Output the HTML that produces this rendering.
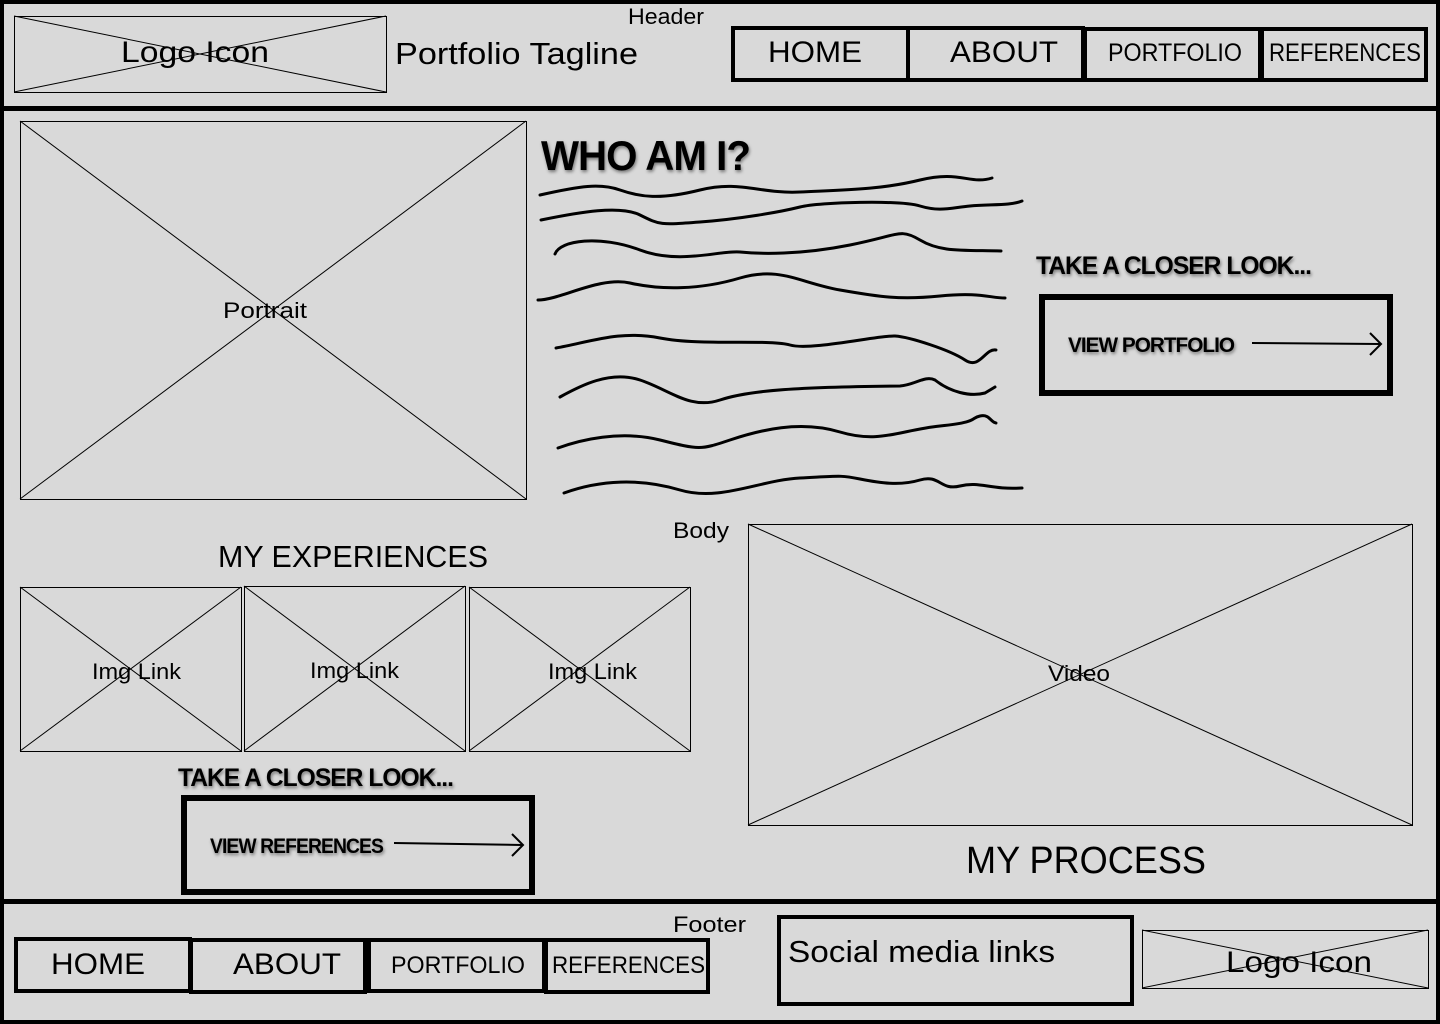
<!DOCTYPE html>
<html><head><meta charset="utf-8"><style>
html,body{margin:0;padding:0;background:#000;}
svg{display:block;}
text{font-family:"Liberation Sans",sans-serif;fill:#000;}
.b{font-weight:bold;letter-spacing:-1px;}
</style></head><body>
<svg width="1440" height="1024" viewBox="0 0 1440 1024" xmlns="http://www.w3.org/2000/svg">
<defs><filter id="sh" x="-10%" y="-30%" width="120%" height="160%"><feDropShadow dx="1" dy="2" stdDeviation="1.5" flood-color="#000" flood-opacity="0.45"/></filter></defs>
<rect width="1440" height="1024" fill="#000"/>
<rect x="4" y="4" width="1432" height="102" fill="#d9d9d9"/>
<rect x="4" y="111" width="1432" height="788" fill="#d9d9d9"/>
<rect x="4" y="904" width="1432" height="116" fill="#d9d9d9"/>

<!-- header -->
<g stroke="#000" stroke-width="1" fill="none">
<rect x="14.5" y="16.5" width="372" height="76"/>
<line x1="14" y1="16" x2="386" y2="92"/><line x1="14" y1="92" x2="386" y2="16"/>
</g>
<text x="121" y="62" font-size="30" textLength="148" lengthAdjust="spacingAndGlyphs">Logo Icon</text>
<text x="395" y="64" font-size="31" textLength="243" lengthAdjust="spacingAndGlyphs">Portfolio Tagline</text>
<text x="628" y="24" font-size="22" textLength="76" lengthAdjust="spacingAndGlyphs">Header</text>
<g stroke="#000" stroke-width="4" fill="none">
<rect x="733" y="28" width="175" height="52"/>
<rect x="908" y="28" width="175" height="52"/>
<rect x="1085" y="29" width="175" height="51"/>
<rect x="1262" y="29" width="164" height="51"/>
</g>
<text x="768" y="62" font-size="30" textLength="94" lengthAdjust="spacingAndGlyphs">HOME</text>
<text x="950" y="62" font-size="30" textLength="108" lengthAdjust="spacingAndGlyphs">ABOUT</text>
<text x="1108" y="61" font-size="25" textLength="134" lengthAdjust="spacingAndGlyphs">PORTFOLIO</text>
<text x="1269" y="61" font-size="25" textLength="152" lengthAdjust="spacingAndGlyphs">REFERENCES</text>

<!-- portrait -->
<g stroke="#000" stroke-width="1" fill="none">
<rect x="20.5" y="121.5" width="506" height="378"/>
<line x1="20" y1="121" x2="526" y2="499"/><line x1="20" y1="499" x2="526" y2="121"/>
</g>
<text x="223" y="318" font-size="22" textLength="84" lengthAdjust="spacingAndGlyphs">Portrait</text>

<text class="b" x="541" y="170" font-size="42" filter="url(#sh)" textLength="209" lengthAdjust="spacingAndGlyphs">WHO AM I?</text>
<g stroke="#000" stroke-width="3" fill="none" stroke-linecap="round">
<path d="M540,195 C580,186 600,183 620,190 S660,200 700,190 S760,194 800,192 S880,190 920,180 S970,185 992,178"/>
<path d="M541,220 C580,212 620,205 640,215 S660,225 700,222 S780,212 800,207 S900,200 920,206 S950,208 970,206 S1010,206 1022,201"/>
<path d="M555,254 C560,240 600,235 640,250 S720,250 740,252 S800,255 850,245 S900,228 920,240 S960,250 1001,251"/>
<path d="M538,300 C560,300 600,276 630,283 S700,290 740,278 S800,283 840,290 S900,300 940,296 S990,298 1005,298"/>
<path d="M556,348 C590,342 620,330 660,338 S770,339 790,345 S880,335 895,336 S950,350 965,360 S985,348 996,350"/>
<path d="M560,397 C580,386 610,370 640,380 S690,410 720,400 S800,387 900,386 C915,385 925,375 935,380 C950,392 970,397 985,393 L995,387"/>
<path d="M558,448 C580,440 620,430 660,440 S700,450 730,440 S800,420 840,432 S900,430 940,426 S970,418 980,416 S990,422 996,423"/>
<path d="M564,493 C600,480 640,478 680,490 S760,480 800,478 S840,475 860,479 S900,486 920,480 S940,491 960,486 S990,490 1022,488"/>
</g>

<text class="b" x="1036" y="274" font-size="25" filter="url(#sh)" textLength="275" lengthAdjust="spacingAndGlyphs">TAKE A CLOSER LOOK...</text>
<rect x="1042" y="297" width="348" height="96" fill="none" stroke="#000" stroke-width="6"/>
<text class="b" x="1068" y="352" font-size="21" filter="url(#sh)" textLength="166" lengthAdjust="spacingAndGlyphs">VIEW PORTFOLIO</text>
<g stroke="#000" stroke-width="2" fill="none"><line x1="1252" y1="343" x2="1380" y2="344"/><path d="M1370,333 L1381,344 L1370,355"/></g>

<!-- experiences -->
<text x="218" y="567" font-size="31" textLength="270" lengthAdjust="spacingAndGlyphs">MY EXPERIENCES</text>
<text x="673" y="538" font-size="22" textLength="56" lengthAdjust="spacingAndGlyphs">Body</text>
<g stroke="#000" stroke-width="1" fill="none">
<rect x="20.5" y="587.5" width="221" height="164"/><line x1="20" y1="587" x2="241" y2="751"/><line x1="20" y1="751" x2="241" y2="587"/>
<rect x="244.5" y="586.5" width="221" height="165"/><line x1="244" y1="586" x2="465" y2="751"/><line x1="244" y1="751" x2="465" y2="586"/>
<rect x="469.5" y="587.5" width="221" height="164"/><line x1="469" y1="587" x2="690" y2="751"/><line x1="469" y1="751" x2="690" y2="587"/>
</g>
<text x="92" y="679" font-size="22" textLength="89" lengthAdjust="spacingAndGlyphs">Img Link</text>
<text x="310" y="678" font-size="22" textLength="89" lengthAdjust="spacingAndGlyphs">Img Link</text>
<text x="548" y="679" font-size="22" textLength="89" lengthAdjust="spacingAndGlyphs">Img Link</text>

<text class="b" x="178" y="786" font-size="25" filter="url(#sh)" textLength="275" lengthAdjust="spacingAndGlyphs">TAKE A CLOSER LOOK...</text>
<rect x="184" y="798" width="348" height="94" fill="none" stroke="#000" stroke-width="6"/>
<text class="b" x="210" y="853" font-size="21" filter="url(#sh)" textLength="173" lengthAdjust="spacingAndGlyphs">VIEW REFERENCES</text>
<g stroke="#000" stroke-width="2" fill="none"><line x1="394" y1="843" x2="522" y2="845"/><path d="M512,834 L523,845 L512,856"/></g>

<!-- video -->
<g stroke="#000" stroke-width="1" fill="none">
<rect x="748.5" y="524.5" width="664" height="301"/>
<line x1="748" y1="524" x2="1412" y2="825"/><line x1="748" y1="825" x2="1412" y2="524"/>
</g>
<text x="1048" y="681" font-size="22" textLength="62" lengthAdjust="spacingAndGlyphs">Video</text>
<text x="966" y="873" font-size="38" textLength="240" lengthAdjust="spacingAndGlyphs">MY PROCESS</text>

<!-- footer -->
<text x="673" y="932" font-size="22" textLength="73" lengthAdjust="spacingAndGlyphs">Footer</text>
<g stroke="#000" stroke-width="4" fill="none">
<rect x="16" y="939" width="174" height="52"/>
<rect x="191" y="940" width="174" height="52"/>
<rect x="369" y="940" width="175" height="51"/>
<rect x="546" y="940" width="162" height="52"/>
<rect x="779" y="917" width="353" height="87"/>
</g>
<text x="51" y="974" font-size="30" textLength="94" lengthAdjust="spacingAndGlyphs">HOME</text>
<text x="233" y="974" font-size="30" textLength="108" lengthAdjust="spacingAndGlyphs">ABOUT</text>
<text x="391" y="973" font-size="24" textLength="134" lengthAdjust="spacingAndGlyphs">PORTFOLIO</text>
<text x="552" y="973" font-size="24" textLength="153" lengthAdjust="spacingAndGlyphs">REFERENCES</text>
<text x="788" y="962" font-size="31" textLength="267" lengthAdjust="spacingAndGlyphs">Social media links</text>
<g stroke="#000" stroke-width="1" fill="none">
<rect x="1142.5" y="930.5" width="286" height="58"/>
<line x1="1142" y1="930" x2="1428" y2="988"/><line x1="1142" y1="988" x2="1428" y2="930"/>
</g>
<text x="1226" y="972" font-size="30" textLength="146" lengthAdjust="spacingAndGlyphs">Logo Icon</text>
</svg>
</body></html>
